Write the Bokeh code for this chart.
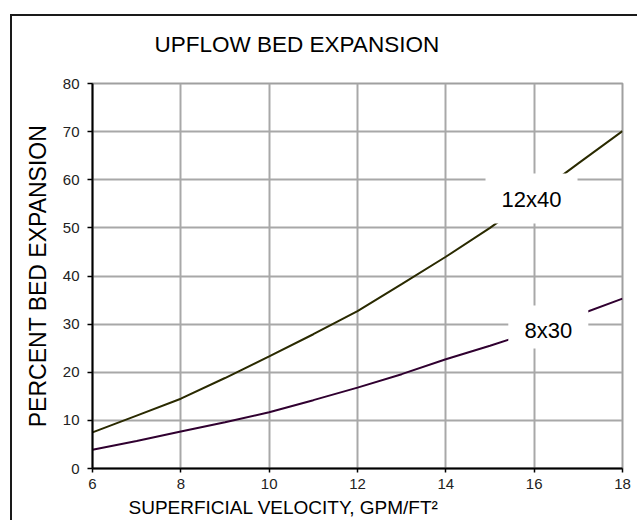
from bokeh.plotting import figure
from bokeh.models import Range1d, FixedTicker, ColumnDataSource, Title
from bokeh.core.properties import value
from bokeh.embed import file_html
from bokeh.resources import INLINE

# ---- data ----
velocity = [6, 7, 8, 9, 10, 11, 12, 13, 14, 15, 16, 17, 18]
exp_12x40 = [7.5, 11.0, 14.5, 18.8, 23.3, 27.9, 32.7, 38.3, 44.0, 50.0, 56.6, 63.4, 70.1]
exp_8x30 = [3.9, 5.7, 7.7, 9.6, 11.7, 14.2, 16.8, 19.6, 22.7, 25.5, 28.5, 31.9, 35.3]
series_names = ["12x40", "8x30"]
label_x = [15.94, 16.32]
label_box_y = [56.1, 29.4]
label_text_y = [55.8, 28.7]
x_ticks = [6, 8, 10, 12, 14, 16, 18]
y_ticks = [0, 10, 20, 30, 40, 50, 60, 70, 80]

FONT = "Liberation Sans"

p = figure(width=627, height=506, output_backend="svg", toolbar_location=None,
           x_range=Range1d(6, 18), y_range=Range1d(0, 80),
           min_border_left=80, min_border_right=17, min_border_top=67, min_border_bottom=54)
p.styles = {"margin-left": "12px", "margin-top": "16px",
            "box-shadow": "-2px -2px 0 0 #1a1a1a"}
p.background_fill_color = "white"
p.border_fill_color = "white"
p.outline_line_color = "#a0a0a0"
p.outline_line_width = 2

# grid
for g in (p.xgrid, p.ygrid):
    g.grid_line_color = "#a8a8a8"
    g.grid_line_width = 2
p.xgrid.ticker = FixedTicker(ticks=x_ticks)
p.ygrid.ticker = FixedTicker(ticks=y_ticks)

# axes
p.xaxis.ticker = FixedTicker(ticks=x_ticks)
p.yaxis.ticker = FixedTicker(ticks=y_ticks)
for ax in (p.xaxis, p.yaxis):
    ax.axis_line_color = "black"
    ax.axis_line_width = 2
    ax.major_tick_line_color = "black"
    ax.major_tick_line_width = 1.5
    ax.major_tick_in = 0
    ax.minor_tick_line_color = None
    ax.major_label_text_font = FONT
    ax.major_label_text_font_size = "15px"
    ax.major_label_text_color = "#222222"
p.yaxis.major_tick_out = 5
p.xaxis.major_tick_out = 4
p.yaxis.major_label_standoff = 8
p.xaxis.major_label_standoff = 6

p.yaxis.axis_label = "PERCENT BED EXPANSION"
p.yaxis.axis_label_text_font = FONT
p.yaxis.axis_label_text_font_size = "23px"
p.yaxis.axis_label_text_font_style = "normal"
p.yaxis.axis_label_text_color = "black"
p.yaxis.axis_label_standoff = 9

# spacer between frame and title, then the title (above), x-axis title (below)
p.add_layout(Title(text=" ", standoff=24, text_font=FONT, text_font_size="1px"), "above")
p.add_layout(Title(text="UPFLOW BED EXPANSION", align="left", offset=62, standoff=0,
                   text_font=FONT, text_font_size="22.5px", text_font_style="normal",
                   text_color="black"), "above")
p.add_layout(Title(text="SUPERFICIAL VELOCITY, GPM/FT²", align="left", offset=36, standoff=6,
                   text_font=FONT, text_font_size="19px", text_font_style="normal",
                   text_color="black"), "below")

# curves
p.line(velocity, exp_12x40, line_color="#2a2a00", line_width=2)
p.line(velocity, exp_8x30, line_color="#300030", line_width=2)

# curve labels with white boxes
src = ColumnDataSource(dict(x=label_x, yb=label_box_y, yt=label_text_y, t=series_names,
                            w=[92, 80], h=[50, 43]))
p.rect(x="x", y="yb", width="w", height="h", width_units="screen", height_units="screen",
       source=src, fill_color="white", line_color=None)
p.text(x="x", y="yt", text="t", source=src, text_align="center", text_baseline="middle",
       text_font=value(FONT), text_font_size="22px", text_color="black")

open("out.html", "w").write(file_html(p, INLINE))
